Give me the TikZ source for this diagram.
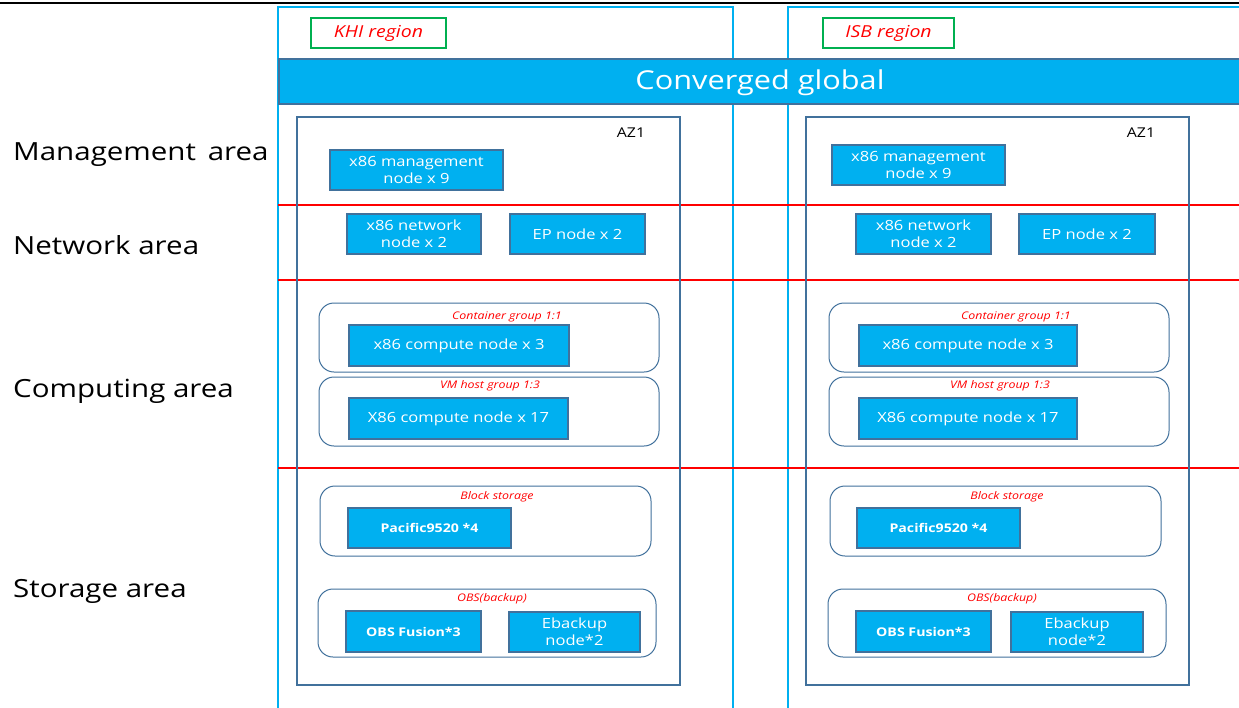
\documentclass[tikz,border=0pt]{standalone}
\usepackage{fontspec}
\setmainfont{Open Sans}[FakeStretch=1.18]
\definecolor{skyb}{HTML}{00B0F0}
\definecolor{edgeb}{HTML}{41719C}
\definecolor{grn}{HTML}{00B050}
\definecolor{redl}{HTML}{FF0000}
\tikzset{
  bluebox/.style={draw=edgeb, line width=2pt, fill=skyb, text=white, inner sep=0pt, align=center, font=\fontsize{14}{17}\selectfont},
  boldbox/.style={bluebox, font=\fontsize{12}{15}\selectfont\bfseries},
  group/.style={draw=edgeb, line width=1pt, rounded corners=15pt, inner sep=0pt},
  grplabel/.style={text=redl, font=\fontsize{10.5}{13}\selectfont\itshape, inner sep=0pt},
  regbox/.style={draw=skyb, line width=1.8pt},
  reglabel/.style={draw=grn, line width=1.5pt, text=redl, inner sep=0pt, font=\fontsize{16.5}{18}\selectfont\itshape},
  azbox/.style={draw=edgeb, line width=1.8pt, inner sep=0pt},
  arealabel/.style={anchor=west, inner sep=0pt, font=\fontsize{25}{28}\selectfont},
  redline/.style={draw=redl, line width=1.3pt}
}
\begin{document}
\begin{tikzpicture}[x=1pt,y=-1pt]
\useasboundingbox (0,0) rectangle (1239,707);
\clip (0,0) rectangle (1239,707);
\fill[white] (0,0) rectangle (1239,707);
% top line
\draw[line width=2pt, black] (0,3) -- (1239,3);
% region boxes
\draw[regbox] (278,7) rectangle (733,720);
\draw[regbox] (788,7) rectangle (1260,720);
\node[reglabel, minimum width=135pt, minimum height=30pt] (khi) at (378.5,33) {KHI region};
\node[reglabel, minimum width=131pt, minimum height=30pt] (isb) at (888.5,33) {ISB region};
% converged global
\node[draw=edgeb, line width=2pt, fill=skyb, text=white, inner sep=0pt, minimum width=980pt, minimum height=45pt, anchor=west] (cg) at (278,81.5) {};
\node[text=white, font=\fontsize{26}{28}\selectfont, inner sep=0pt] (cgt) at (760,83) {Converged global};
% red lines
\draw[redline] (278,205) -- (1239,205);
\draw[redline] (278,280) -- (1239,280);
\draw[redline] (278,468) -- (1239,468);
% AZ boxes
\draw[azbox] (297,117) rectangle (680,685);
\draw[azbox] (806,117) rectangle (1189,685);
\node[font=\fontsize{13.5}{15}\selectfont, inner sep=0pt] (az1a) at (631,133) {AZ1};
\node[font=\fontsize{13.5}{15}\selectfont, inner sep=0pt] (az1b) at (1141,133) {AZ1};
% area labels
\node[arealabel] (lm) at (13,155) {Management\, area};
\node[arealabel] (ln) at (13,245) {Network area};
\node[arealabel] (lc) at (13,391) {Computing area};
\node[arealabel] (ls) at (13,591) {Storage area};
% ---------- KHI ----------
\node[bluebox, minimum width=173pt, minimum height=40pt] (m1) at (416.5,170) {x86 management\\node x 9};
\node[bluebox, minimum width=134pt, minimum height=40pt] (n1) at (414,234) {x86 network\\node x 2};
\node[bluebox, minimum width=135pt, minimum height=40pt] (e1) at (577.5,234) {EP node x 2};
\draw[group] (319,303) rectangle (659,372);
\node[grplabel] (cg1) at (507,317) {Container group 1:1};
\node[bluebox, minimum width=220pt, minimum height=41pt] (c1) at (459,345.5) {x86 compute node x 3};
\draw[group] (319,377) rectangle (659,446);
\node[grplabel] (vg1) at (490,386) {VM host group 1:3};
\node[bluebox, minimum width=219pt, minimum height=41pt] (v1) at (458.5,418.5) {X86 compute node x 17};
\draw[group] (320,486) rectangle (651,556);
\node[grplabel] (bs1) at (497,497) {Block storage};
\node[boldbox, minimum width=163pt, minimum height=40pt] (p1) at (429.5,528) {Pacific9520 *4};
\draw[group] (318,589) rectangle (656,657);
\node[grplabel] (ob1) at (492,599) {OBS(backup)};
\node[boldbox, minimum width=135pt, minimum height=41pt] (f1) at (413.5,631.5) {OBS Fusion*3};
\node[bluebox, minimum width=131pt, minimum height=40pt] (b1) at (574.5,632) {Ebackup\\node*2};
% ---------- ISB ----------
\node[bluebox, minimum width=173pt, minimum height=40pt] (m2) at (918.5,165) {x86 management\\node x 9};
\node[bluebox, minimum width=135pt, minimum height=40pt] (n2) at (923.5,234) {x86 network\\node x 2};
\node[bluebox, minimum width=136pt, minimum height=40pt] (e2) at (1087,234) {EP node x 2};
\draw[group] (829,303) rectangle (1169,372);
\node[grplabel] (cg2) at (1016,317) {Container group 1:1};
\node[bluebox, minimum width=218pt, minimum height=41pt] (c2) at (968,345.5) {x86 compute node x 3};
\draw[group] (829,377) rectangle (1169,446);
\node[grplabel] (vg2) at (1000,386) {VM host group 1:3};
\node[bluebox, minimum width=218pt, minimum height=41pt] (v2) at (968,418.5) {X86 compute node x 17};
\draw[group] (830,486) rectangle (1161,556);
\node[grplabel] (bs2) at (1007,497) {Block storage};
\node[boldbox, minimum width=163pt, minimum height=40pt] (p2) at (938.5,528) {Pacific9520 *4};
\draw[group] (828,589) rectangle (1166,657);
\node[grplabel] (ob2) at (1002,599) {OBS(backup)};
\node[boldbox, minimum width=135pt, minimum height=41pt] (f2) at (923.5,631.5) {OBS Fusion*3};
\node[bluebox, minimum width=132pt, minimum height=40pt] (b2) at (1077,632) {Ebackup\\node*2};
\end{tikzpicture}
\end{document}
